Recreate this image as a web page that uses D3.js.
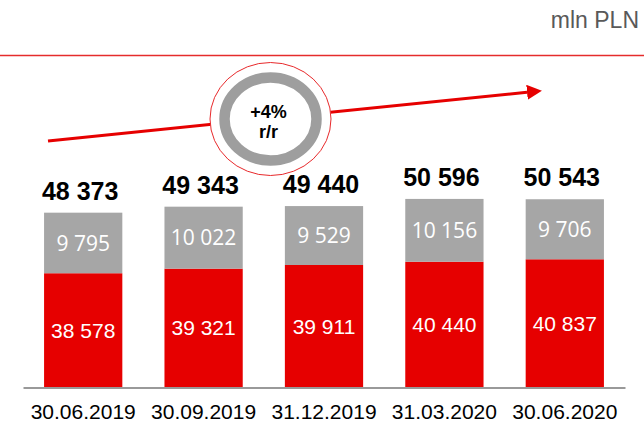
<!DOCTYPE html>
<html>
<head>
<meta charset="utf-8">
<script src="https://cdn.jsdelivr.net/npm/d3@7"></script>
<style>
  body { margin: 0; background: #fff; }
  svg { display: block; }
</style>
</head>
<body>
<div id="chart"></div>
<script>
// data (mln PLN)
const dates = ["30.06.2019", "30.09.2019", "31.12.2019", "31.03.2020", "30.06.2020"];
const redValues = [38578, 39321, 39911, 40440, 40837];
const grayValues = [9795, 10022, 9529, 10156, 9706];
const growthLabel = ["+4%", "r/r"];
const unitLabel = "mln PLN";

const width = 644, height = 424;
const RED = "#e60000", GRAY = "#a6a6a6";

const svg = d3.select("#chart")
  .append("svg")
  .attr("width", width)
  .attr("height", height);

const data = dates.map((d, i) => ({
  date: d,
  red: redValues[i],
  gray: grayValues[i],
  total: redValues[i] + grayValues[i]
}));

// X band scale
const x = d3.scaleBand()
  .domain(dates)
  .range([23, 625])
  .paddingInner(0.35)
  .paddingOuter(0.175);

// Y scale (axis does not start at zero in the original)
const y = d3.scaleLinear()
  .domain([20100, 50600])
  .range([387.5, 198.9]);

// top line + unit
svg.append("line")
  .attr("x1", 0).attr("x2", width)
  .attr("y1", 55.5).attr("y2", 55.5)
  .attr("stroke", "#e52c2c")
  .attr("stroke-width", 1.5);

svg.append("text")
  .attr("x", 639)
  .attr("y", 28)
  .attr("text-anchor", "end")
  .style("font-family", "'Liberation Sans', Arial, sans-serif")
  .style("font-size", "23px")
  .attr("fill", "#595959")
  .text(unitLabel);

// red segments
svg.append("g")
  .selectAll("rect")
  .data(data)
  .join("rect")
    .attr("x", d => x(d.date))
    .attr("width", x.bandwidth())
    .attr("y", d => y(d.red))
    .attr("height", d => y.range()[0] - y(d.red))
    .attr("fill", RED);

// gray segments
svg.append("g")
  .selectAll("rect")
  .data(data)
  .join("rect")
    .attr("x", d => x(d.date))
    .attr("width", x.bandwidth())
    .attr("y", d => y(d.total))
    .attr("height", d => y(d.red) - y(d.total))
    .attr("fill", GRAY);

const fmt = v => d3.format(",")(v).replace(/,/g, " ");

// labels inside red
svg.append("g")
  .selectAll("text")
  .data(data)
  .join("text")
    .attr("x", d => x(d.date) + x.bandwidth() / 2)
    .attr("y", d => (y(d.red) + y.range()[0]) / 2)
    .attr("dy", "0.35em")
    .attr("text-anchor", "middle")
    .attr("fill", "#fff")
    .style("font-family", "'Liberation Sans', Arial, sans-serif")
    .style("font-size", "21px")
    .text(d => fmt(d.red));

// labels inside gray
svg.append("g")
  .selectAll("text")
  .data(data)
  .join("text")
    .attr("x", d => x(d.date) + x.bandwidth() / 2)
    .attr("y", d => (y(d.red) + y(d.total)) / 2)
    .attr("dy", "0.36em")
    .attr("text-anchor", "middle")
    .attr("fill", "#fff")
    .style("font-family", "'Open Sans', sans-serif")
    .style("font-size", "21px")
    .text(d => fmt(d.gray));

// totals
svg.append("g")
  .selectAll("text")
  .data(data)
  .join("text")
    .attr("x", d => x(d.date) + x.bandwidth() / 2 - 3)
    .attr("y", d => y(d.total) - 13)
    .attr("text-anchor", "middle")
    .attr("fill", "#000")
    .style("font-family", "'Liberation Sans', Arial, sans-serif")
    .style("font-size", "25px")
    .style("font-weight", "bold")
    .text(d => fmt(d.total));

// X axis
const xAxis = svg.append("g")
  .attr("transform", `translate(0, ${y.range()[0]})`)
  .call(d3.axisBottom(x).tickSize(0).tickPadding(16.5));
xAxis.select(".domain")
  .attr("stroke", "#999")
  .attr("stroke-width", 2);
xAxis.selectAll("text")
  .attr("fill", "#000")
  .style("font-family", "'Liberation Sans', Arial, sans-serif")
  .style("font-size", "21px");

// growth arrow
svg.append("defs").append("marker")
  .attr("id", "head")
  .attr("viewBox", "0 0 10 10")
  .attr("refX", 0).attr("refY", 5)
  .attr("markerWidth", 5).attr("markerHeight", 5)
  .attr("markerUnits", "strokeWidth")
  .attr("orient", "auto")
  .append("path")
    .attr("d", "M0,0L10,5L0,10Z")
    .attr("fill", RED);

svg.append("line")
  .attr("x1", 48).attr("y1", 141)
  .attr("x2", 527).attr("y2", 92.3)
  .attr("stroke", RED)
  .attr("stroke-width", 3)
  .attr("marker-end", "url(#head)");

// growth badge
const badge = svg.append("g").attr("transform", "translate(270.5, 119)");
badge.append("ellipse")
  .attr("rx", 60.5).attr("ry", 56.5)
  .attr("fill", "#fff")
  .attr("stroke", "#e8292b")
  .attr("stroke-width", 1);
badge.append("ellipse")
  .attr("rx", 46).attr("ry", 41.5)
  .attr("fill", "#fff")
  .attr("stroke", "#9e9e9e")
  .attr("stroke-width", 10.5);
badge.selectAll("text.g")
  .data(growthLabel)
  .join("text")
    .attr("class", "g")
    .attr("x", -2)
    .attr("y", (d, i) => -1 + i * 20)
    .attr("text-anchor", "middle")
    .style("font-family", "'Liberation Sans', Arial, sans-serif")
    .style("font-size", "18px")
    .style("font-weight", "bold")
    .text(d => d);
</script>
</body>
</html>
